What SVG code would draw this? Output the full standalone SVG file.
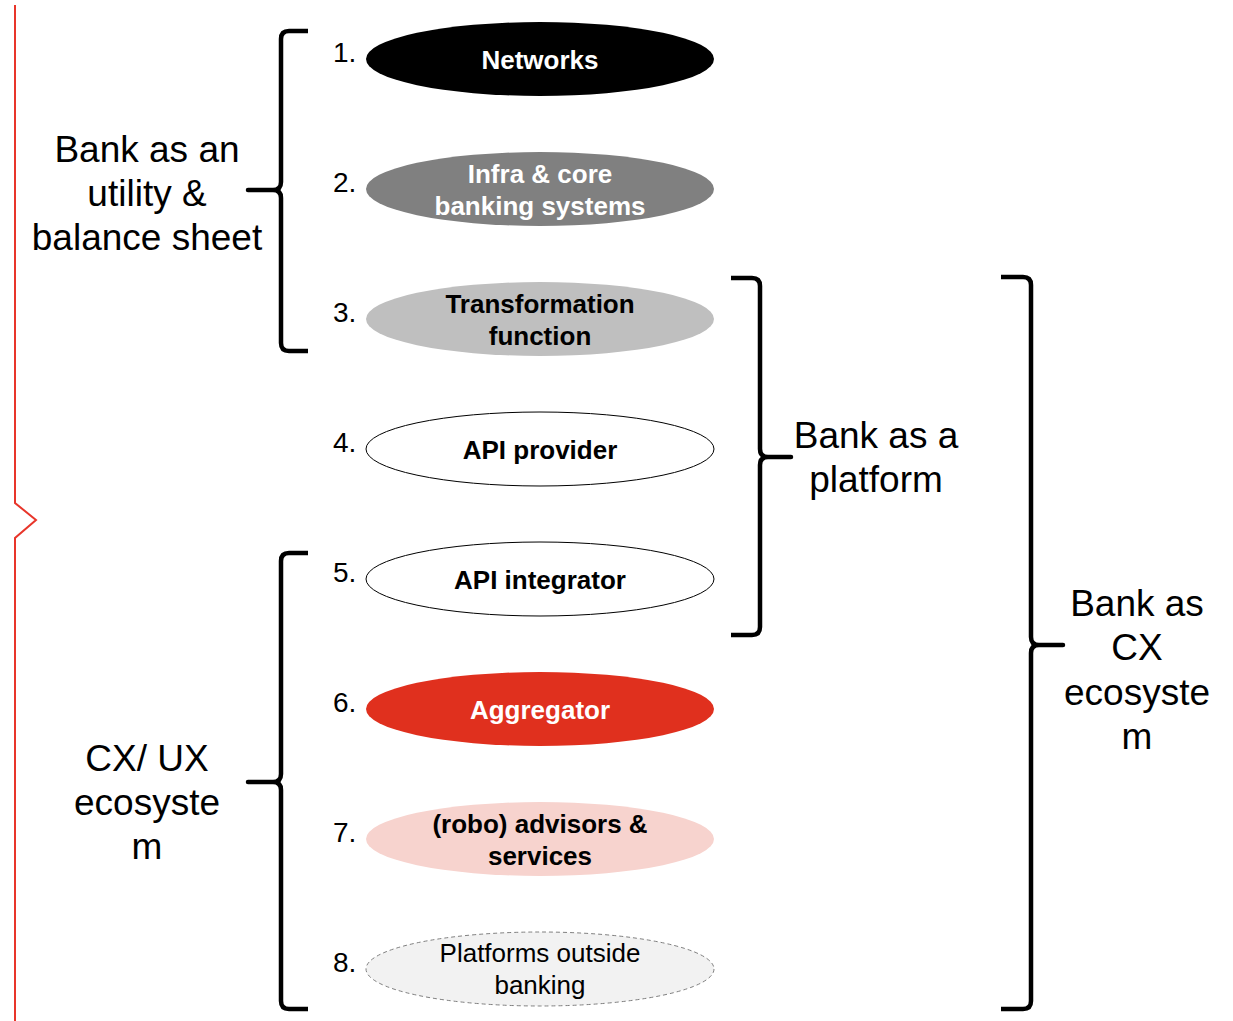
<svg xmlns="http://www.w3.org/2000/svg" width="1233" height="1021" viewBox="0 0 1233 1021">
  <style>
    .num { font-family: "Liberation Sans", Arial, sans-serif; font-size: 28px; fill: #000; }
    .lbl { font-family: "Liberation Sans", Arial, sans-serif; font-size: 26px; font-weight: bold; text-anchor: middle; }
    .plain { font-family: "Liberation Sans", Arial, sans-serif; font-size: 26px; font-weight: normal; text-anchor: middle; fill: #000; }
    .big { font-family: "Liberation Sans", Arial, sans-serif; font-size: 37px; fill: #000; text-anchor: middle; }
    .brace { fill: none; stroke: #000; stroke-width: 4.5; stroke-linejoin: round; }
  </style>

  <!-- red marker line on the left edge -->
  <path d="M15,5 V503 L36,520 L15,538 V1021" fill="none" stroke="#e8352a" stroke-width="2"/>

  <!-- nodes -->
  <g id="n1">
    <text class="num" x="333" y="62">1.</text>
    <ellipse cx="540" cy="59" rx="174" ry="37" fill="#000"/>
    <text class="lbl" x="540" y="69" fill="#fff">Networks</text>
  </g>
  <g id="n2">
    <text class="num" x="333" y="192">2.</text>
    <ellipse cx="540" cy="189" rx="174" ry="37" fill="#808080"/>
    <text class="lbl" x="540" y="183" fill="#fff">Infra &amp; core</text>
    <text class="lbl" x="540" y="215" fill="#fff">banking systems</text>
  </g>
  <g id="n3">
    <text class="num" x="333" y="322">3.</text>
    <ellipse cx="540" cy="319" rx="174" ry="37" fill="#bfbfbf"/>
    <text class="lbl" x="540" y="313" fill="#000">Transformation</text>
    <text class="lbl" x="540" y="345" fill="#000">function</text>
  </g>
  <g id="n4">
    <text class="num" x="333" y="452">4.</text>
    <ellipse cx="540" cy="449" rx="174" ry="37" fill="#fff" stroke="#000" stroke-width="1"/>
    <text class="lbl" x="540" y="459" fill="#000">API provider</text>
  </g>
  <g id="n5">
    <text class="num" x="333" y="582">5.</text>
    <ellipse cx="540" cy="579" rx="174" ry="37" fill="#fff" stroke="#000" stroke-width="1"/>
    <text class="lbl" x="540" y="589" fill="#000">API integrator</text>
  </g>
  <g id="n6">
    <text class="num" x="333" y="712">6.</text>
    <ellipse cx="540" cy="709" rx="174" ry="37" fill="#e0301e"/>
    <text class="lbl" x="540" y="719" fill="#fff">Aggregator</text>
  </g>
  <g id="n7">
    <text class="num" x="333" y="842">7.</text>
    <ellipse cx="540" cy="839" rx="174" ry="37" fill="#f7d3ce"/>
    <text class="lbl" x="540" y="833" fill="#000">(robo) advisors &amp;</text>
    <text class="lbl" x="540" y="865" fill="#000">services</text>
  </g>
  <g id="n8">
    <text class="num" x="333" y="972">8.</text>
    <ellipse cx="540" cy="969" rx="174" ry="37" fill="#f2f2f2" stroke="#7f7f7f" stroke-width="1" stroke-dasharray="4,3"/>
    <text class="plain" x="540" y="962">Platforms outside</text>
    <text class="plain" x="540" y="994">banking</text>
  </g>

  <!-- grouping braces -->
  <g id="connectors">
    <path class="brace" d="M308,31 H289 Q281,31 281,39 V182 Q281,190 273,190 H248 H273 Q281,190 281,198 V343 Q281,351 289,351 H308"/>
    <path class="brace" d="M308,553 H289 Q281,553 281,561 V774 Q281,782 273,782 H248 H273 Q281,782 281,790 V1001 Q281,1009 289,1009 H308"/>
    <path class="brace" d="M731,278 H752 Q760,278 760,286 V449 Q760,457 768,457 H791 H768 Q760,457 760,465 V627 Q760,635 752,635 H731"/>
    <path class="brace" d="M1001,277 H1023 Q1031,277 1031,285 V637 Q1031,645 1039,645 H1063 H1039 Q1031,645 1031,653 V1001 Q1031,1009 1023,1009 H1001"/>
  </g>

  <!-- brace captions -->
  <g id="captions">
    <text class="big" x="147" y="162">Bank as an</text>
    <text class="big" x="147" y="206">utility &amp;</text>
    <text class="big" x="147" y="250">balance sheet</text>

    <text class="big" x="147" y="771">CX/ UX</text>
    <text class="big" x="147" y="815">ecosyste</text>
    <text class="big" x="147" y="859">m</text>

    <text class="big" x="876" y="448">Bank as a</text>
    <text class="big" x="876" y="492">platform</text>

    <text class="big" x="1137" y="616">Bank as</text>
    <text class="big" x="1137" y="660">CX</text>
    <text class="big" x="1137" y="705">ecosyste</text>
    <text class="big" x="1137" y="749">m</text>
  </g>
</svg>
